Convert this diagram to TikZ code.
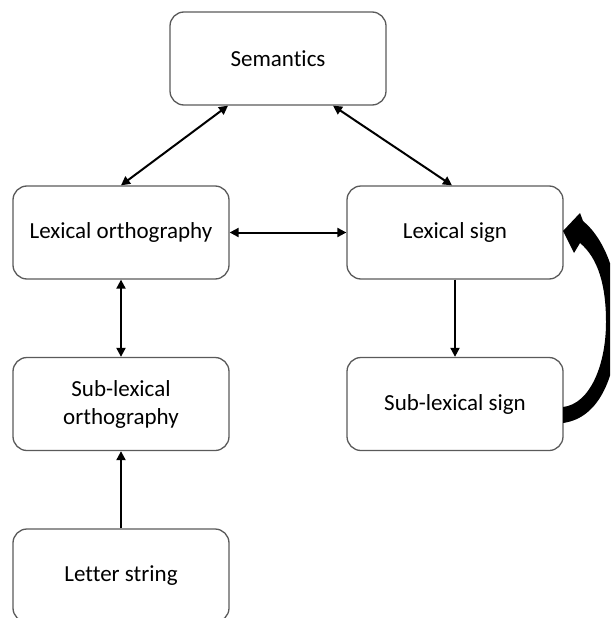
\documentclass[tikz,border=0pt]{standalone}
\usepackage{fontspec}
\setmainfont{Carlito}[Ligatures=NoCommon]
\usetikzlibrary{arrows.meta}
\definecolor{boxgray}{HTML}{5A5A5A}
\begin{document}
\begin{tikzpicture}[x=1pt,y=-1pt,
  box/.style={draw=boxgray, line width=1.3pt, rounded corners=14pt,
    minimum width=216pt, minimum height=93pt, align=center, inner sep=0pt,
    font=\fontsize{23}{28}\selectfont},
  link/.style={line width=2pt, -{Triangle[length=9pt,width=9pt]}},
  dbl/.style={line width=2pt, {Triangle[length=9pt,width=9pt]}-{Triangle[length=9pt,width=9pt]}}]
\useasboundingbox (0,0) rectangle (610,618);
\clip (0,0) rectangle (610,618);

% boxes
\node[box] (sem) at (278,58.5) {Semantics};
\node[box] (lo)  at (121,232.5) {Lexical orthography};
\node[box] (ls)  at (455,232.5) {Lexical sign};
\node[box] (slo) at (121,404) {Sub-lexical\\orthography};
\node[box] (sls) at (455,404) {Sub-lexical sign};
\node[box] (lst) at (121,575.5) {Letter string};

% connectors
\draw[dbl] ([xshift=-50pt]sem.south) -- (lo.north);
\draw[dbl] ([xshift=55pt]sem.south) -- ([xshift=-3pt]ls.north);
\draw[dbl] (lo.east) -- (ls.west);
\draw[dbl] (lo.south) -- (slo.north);
\draw[link] (ls.south) -- (sls.north);
\draw[link] (lst.north) -- (slo.south);

% thick curved feedback arrow from the sub-lexical sign back to the lexical sign
\fill (563,231) -- (580,213) -- (583,221)
  .. controls (606,240) and (620,280) .. (618,322)
  .. controls (617,375) and (600,418) .. (563,423)
  -- (563,407)
  .. controls (590,404) and (606,365) .. (606,322)
  .. controls (606,285) and (598,258) .. (580,243)
  -- (574,253) -- cycle;
\end{tikzpicture}
\end{document}
